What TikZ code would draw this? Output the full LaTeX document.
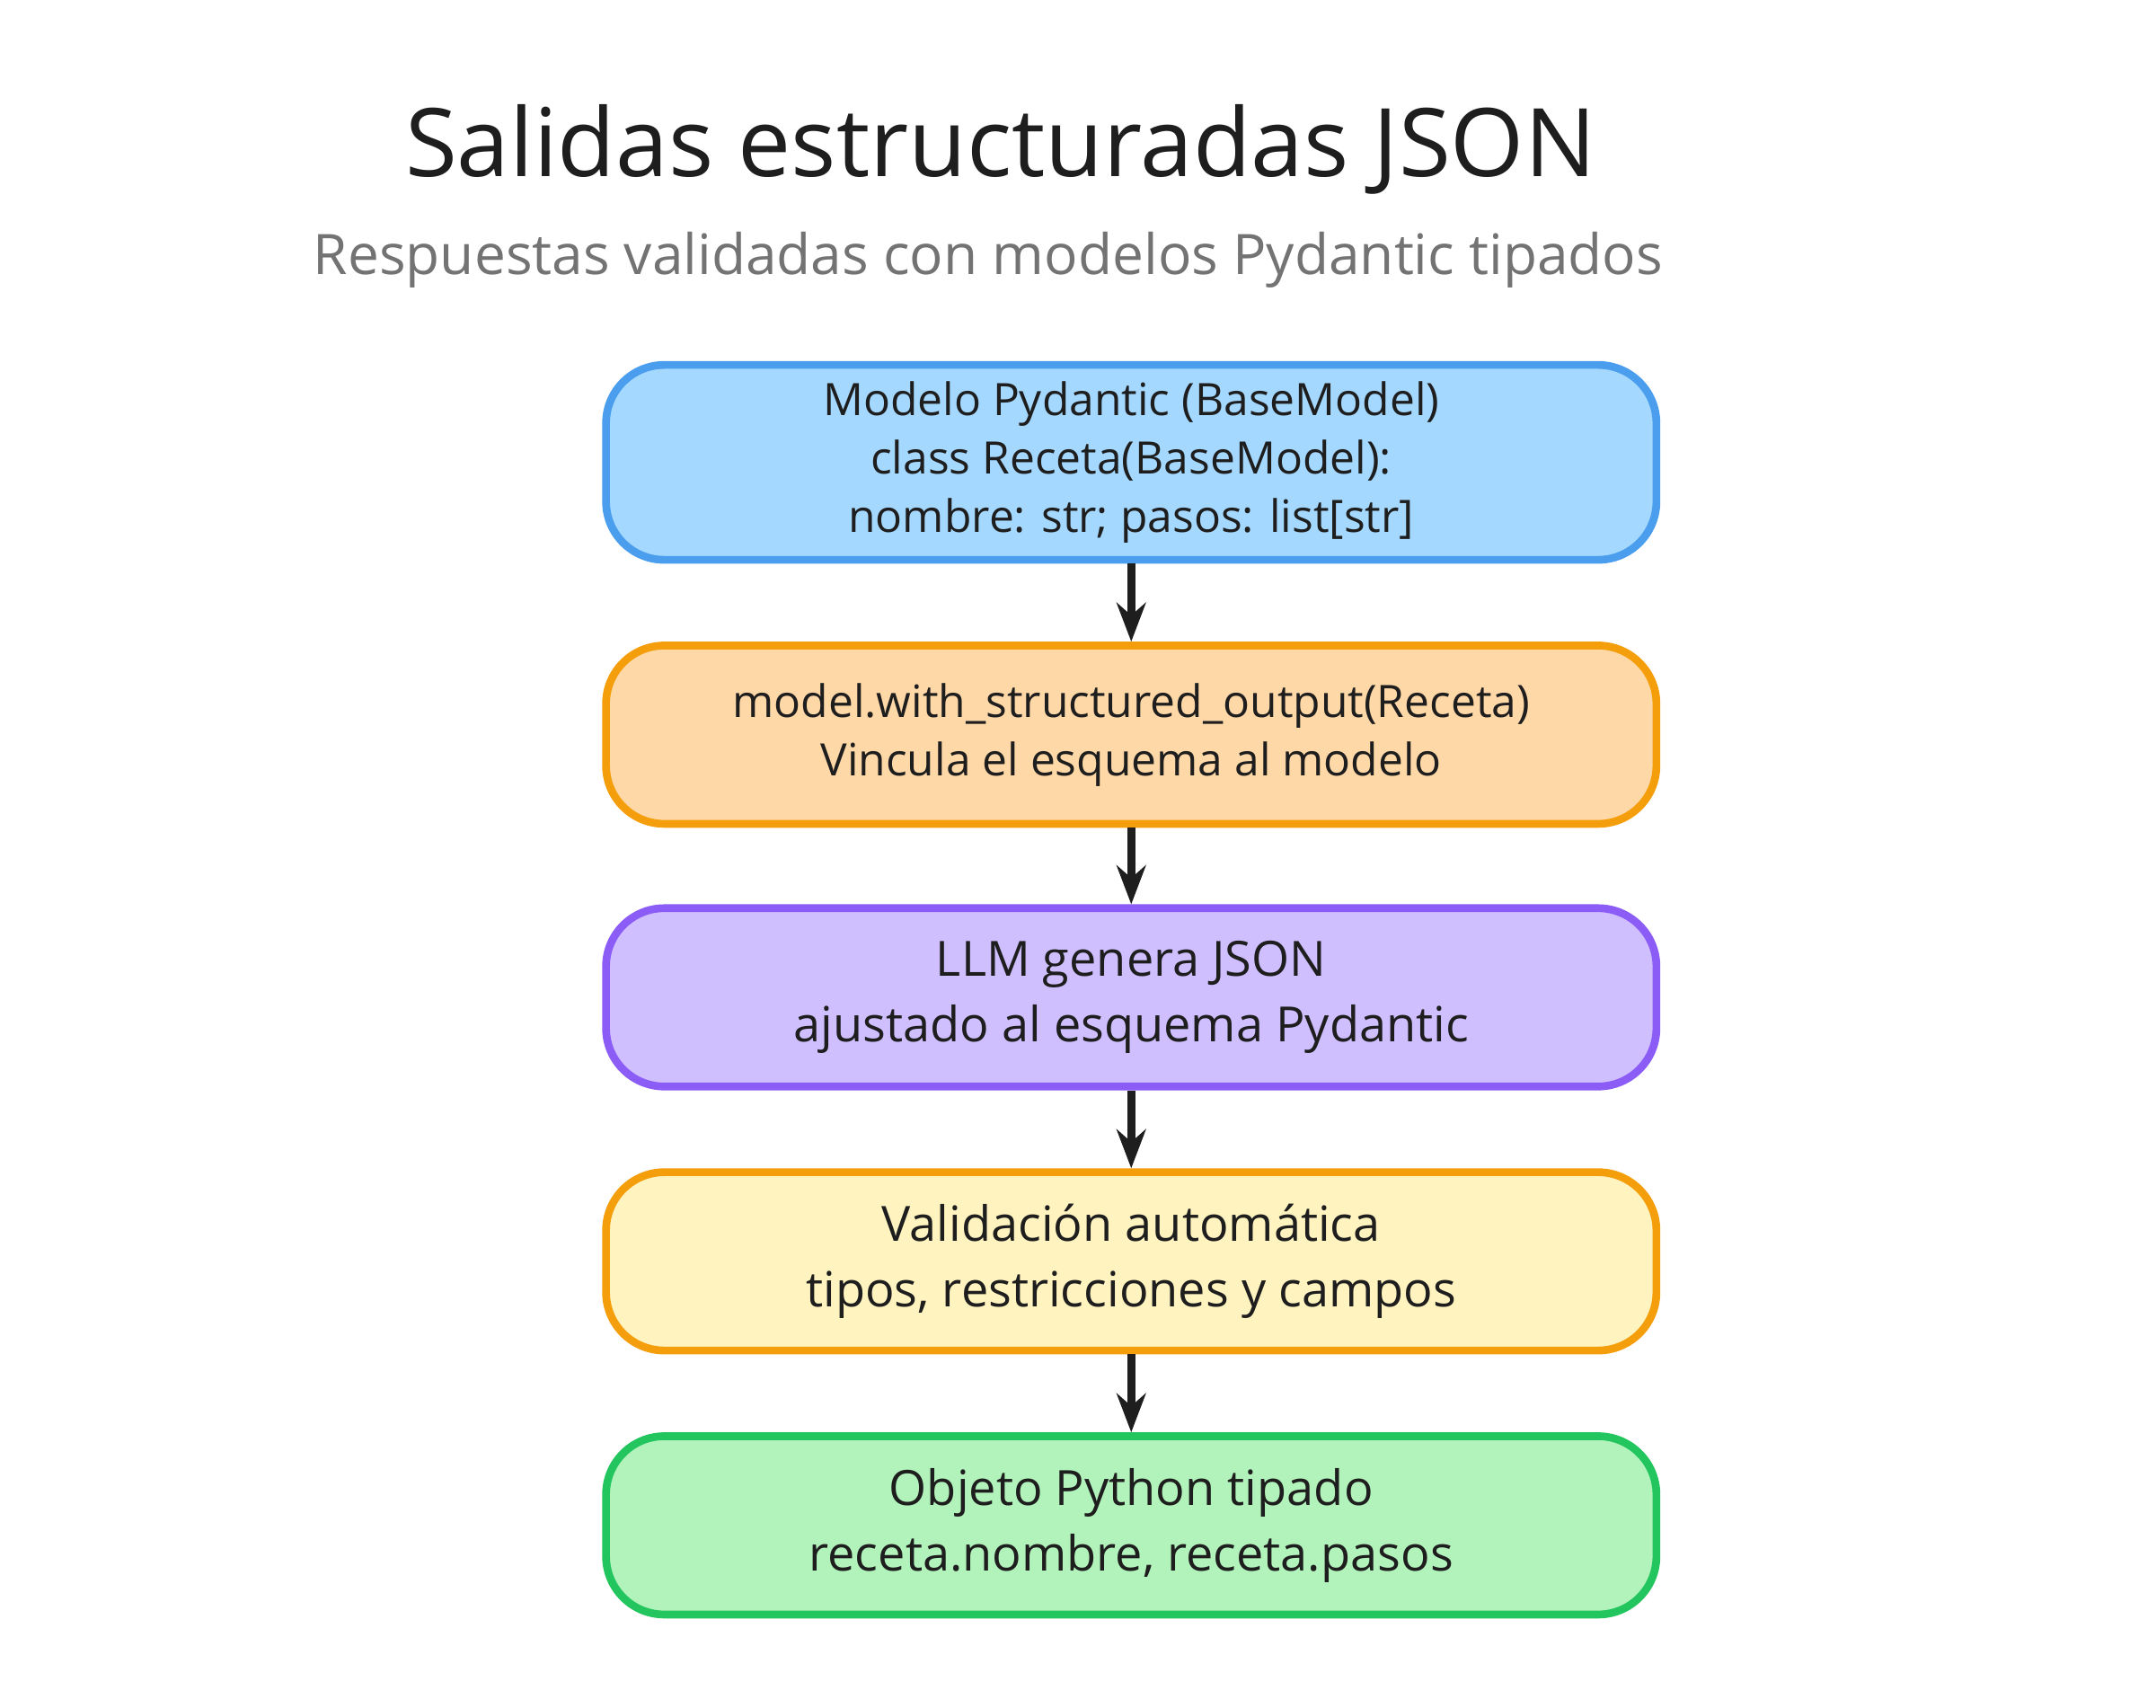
\documentclass[tikz,border=0pt]{standalone}
\usepackage{fontspec}
\setmainfont{Open Sans}
\usetikzlibrary{positioning,arrows.meta}
\definecolor{bluefill}{HTML}{A5D8FF}\definecolor{bluedraw}{HTML}{4A9EED}
\definecolor{orfill}{HTML}{FFD8A8}\definecolor{ordraw}{HTML}{F59E0B}
\definecolor{pufill}{HTML}{D0BFFF}\definecolor{pudraw}{HTML}{8B5CF6}
\definecolor{yefill}{HTML}{FFF3BF}
\definecolor{grfill}{HTML}{B2F2BB}\definecolor{grdraw}{HTML}{22C55E}
\definecolor{ink}{HTML}{1E1E1E}
\tikzset{
  stepbox/.style={draw, line width=1.6pt, rounded corners=12pt, minimum width=7.6cm,
    minimum height=1.29cm, align=center, font=\fontsize{9.2}{12}\selectfont, text=ink},
  flow/.style={-{Stealth[length=8pt]}, line width=1.6pt, draw=ink}
}
\begin{document}
\begin{tikzpicture}
\useasboundingbox (0,0) rectangle (15.6,-12.35);
\node[font=\fontsize{19.5}{22}\selectfont, text=ink] (title) at (7.24,-1.08) {Salidas estructuradas JSON};
\node[font=\fontsize{11.5}{14}\selectfont, text=black!55] (subtitle) at (7.15,-1.88) {Respuestas validadas con modelos Pydantic tipados};

\node[stepbox, fill=bluefill, draw=bluedraw, minimum height=1.41cm] (schema) at (8.185,-3.345)
  {Modelo Pydantic (BaseModel)\\class Receta(BaseModel):\\nombre: str; pasos: list[str]};
\node[stepbox, fill=orfill, draw=ordraw] (bind) at (8.185,-5.315)
  {model.with\_structured\_output(Receta)\\Vincula el esquema al modelo};
\node[stepbox, fill=pufill, draw=pudraw, font=\fontsize{10}{13.5}\selectfont] (llm) at (8.185,-7.215)
  {LLM genera JSON\\ajustado al esquema Pydantic};
\node[stepbox, fill=yefill, draw=ordraw, font=\fontsize{10}{13.5}\selectfont] (valid) at (8.185,-9.125)
  {Validación automática\\tipos, restricciones y campos};
\node[stepbox, fill=grfill, draw=grdraw, font=\fontsize{10}{13.5}\selectfont] (obj) at (8.185,-11.035)
  {Objeto Python tipado\\receta.nombre, receta.pasos};

\draw[flow] (schema) -- (bind);
\draw[flow] (bind) -- (llm);
\draw[flow] (llm) -- (valid);
\draw[flow] (valid) -- (obj);
\end{tikzpicture}
\end{document}
